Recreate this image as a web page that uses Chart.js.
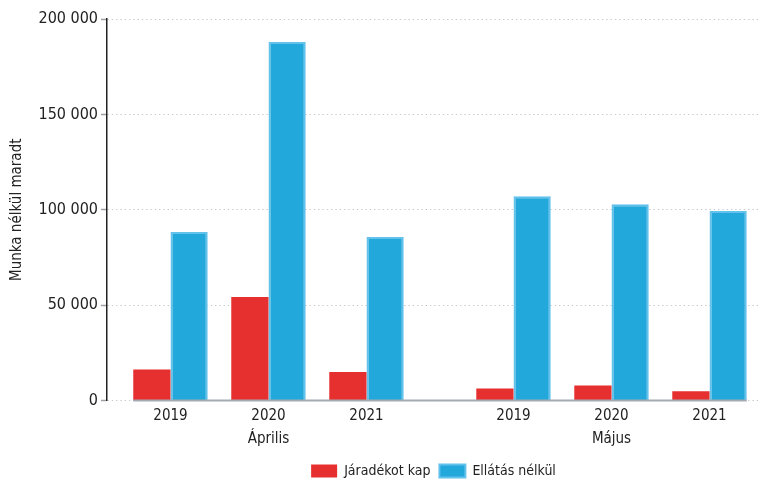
<!DOCTYPE html>
<html>
<head>
<meta charset="utf-8">
<script src="https://cdn.jsdelivr.net/npm/chart.js@4"></script>
<style>
    html, body { margin: 0; padding: 0; background: #fff; }
    #chart_container { width: 762px; height: 481px; }
</style>
</head>
<body>
<div id="chart_container">
    <canvas id="munkanelkuli"></canvas>
</div>
<script>
    // adatok
    const honapok = ['Április', 'Május'];
    const evek = ['2019', '2020', '2021'];
    const jaradekotKap = [16200, 54200, 15000, 6300, 7800, 4900];
    const ellatasNelkul = [88300, 188000, 85700, 107100, 102900, 99300];
    const yTicks = [0, 50000, 100000, 150000, 200000];

    const FONT = "'DejaVu Sans Condensed', 'Liberation Sans Narrow', sans-serif";
    const honapTavolsag = 0.5; // plusz hely a két hónap között

    // x pozíciók: hónaponként 3 év, köztük fél oszlopnyi rés
    const xPos = [];
    const xLabels = [];
    honapok.forEach(function (h, hi) {
        evek.forEach(function (ev, ei) {
            xPos.push(hi * (evek.length + honapTavolsag) + ei);
            xLabels.push(ei === 1 ? [ev, h] : [ev, '']);
        });
    });

    const alapvonal = {
        id: 'alapvonal',
        afterDatasetsDraw(chart) {
            const c = chart.ctx;
            let bal = Infinity, jobb = -Infinity;
            chart.data.datasets.forEach(function (ds, i) {
                chart.getDatasetMeta(i).data.forEach(function (el) {
                    bal = Math.min(bal, el.x - el.width / 2);
                    jobb = Math.max(jobb, el.x + el.width / 2);
                });
            });
            const y = chart.scales.y.getPixelForValue(0);
            c.save();
            c.strokeStyle = '#a3aab2';
            c.lineWidth = 2;
            c.beginPath();
            c.moveTo(bal, y);
            c.lineTo(jobb, y);
            c.stroke();
            c.restore();
        }
    };

    const ctx = document.getElementById('munkanelkuli');
    new Chart(ctx, {
        type: 'bar',
        data: {
            datasets: [
                {
                    label: 'Járadékot kap',
                    data: jaradekotKap.map((v, i) => ({ x: xPos[i], y: v })),
                    backgroundColor: '#e62f2f',
                    borderWidth: 0,
                },
                {
                    label: 'Ellátás nélkül',
                    data: ellatasNelkul.map((v, i) => ({ x: xPos[i], y: v })),
                    backgroundColor: '#22a8da',
                    borderColor: '#63c2ec',
                    borderWidth: 2,
                },
            ]
        },
        plugins: [alapvonal],
        options: {
            responsive: true,
            maintainAspectRatio: false,
            animation: false,
            layout: { padding: { top: 19, right: 2, left: 0, bottom: -7 } },
            datasets: {
                bar: { categoryPercentage: 0.76, barPercentage: 1 }
            },
            scales: {
                x: {
                    type: 'linear',
                    min: -0.648,
                    max: 6.015,
                    offset: false,
                    afterBuildTicks: function (scale) {
                        scale.ticks = xPos.map(v => ({ value: v }));
                    },
                    grid: { display: false, drawTicks: false, offset: false },
                    border: { display: false },
                    ticks: {
                        autoSkip: false,
                        maxRotation: 0,
                        padding: 4,
                        color: '#222',
                        font: { family: FONT, size: 15, lineHeight: 1.55 },
                        callback: function (value, index) {
                            return xLabels[index];
                        }
                    }
                },
                y: {
                    min: 0,
                    max: 200000,
                    afterBuildTicks: function (scale) {
                        scale.ticks = yTicks.map(v => ({ value: v }));
                    },
                    afterFit: function (scale) {
                        scale.width = 107;
                    },
                    border: { display: true, color: '#222', width: 1.5, dash: [1.3, 3] },
                    grid: {
                        color: '#c4c7cb',
                        lineWidth: 1,
                        tickColor: '#9aa0a6',
                        tickBorderDash: [],
                        tickLength: 6,
                        tickWidth: 1.5,
                    },
                    ticks: {
                        padding: 3,
                        color: '#222',
                        font: { family: FONT, size: 16 },
                        callback: function (value) {
                            return String(value).replace(/\B(?=(\d{3})+(?!\d))/g, ' ');
                        }
                    },
                    title: {
                        display: true,
                        text: 'Munka nélkül maradt',
                        color: '#222',
                        padding: { top: 8, bottom: 0 },
                        font: { family: FONT, size: 15 },
                    }
                }
            },
            plugins: {
                tooltip: { enabled: false },
                legend: {
                    position: 'bottom',
                    fullSize: false,
                    labels: {
                        boxWidth: 26,
                        boxHeight: 13,
                        padding: 9,
                        color: '#222',
                        font: { family: FONT, size: 14 },
                    }
                }
            }
        }
    });
</script>
</body>
</html>
